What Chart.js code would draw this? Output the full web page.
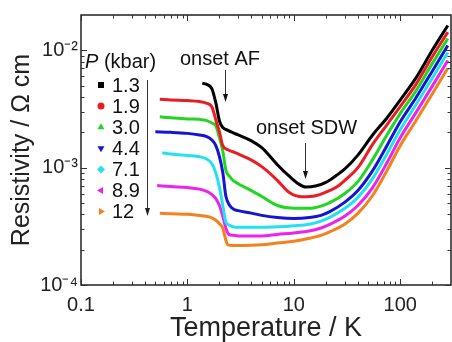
<!DOCTYPE html>
<html><head><meta charset="utf-8">
<script src="https://cdn.jsdelivr.net/npm/chart.js@4.4.0/dist/chart.umd.min.js"></script>
<style>html,body{margin:0;padding:0;background:#fff;}canvas{display:block;}</style>
</head><body>
<canvas id="c" width="452" height="342"></canvas>
<script>
// ---- data (T in K, resistivity in Ω cm) ----
const pressureLabels = ['1.3', '1.9', '3.0', '4.4', '7.1', '8.9', '12'];

const tempP13 = [1.38, 1.5, 1.7, 1.85, 2.0, 2.15, 2.4, 2.7, 3, 4, 5, 7, 9, 11, 13, 16, 20, 25, 30, 40, 55, 75, 100, 140, 200, 280];
const rhoP13  = [5.25e-3, 5.15e-3, 4.7e-3, 3.56e-3, 2.5e-3, 2.2e-3, 2.08e-3, 1.98e-3, 1.9e-3, 1.69e-3, 1.48e-3, 1.06e-3, 8.5e-4, 7.3e-4, 6.84e-4, 6.97e-4, 7.5e-4, 8.56e-4, 9.7e-4, 1.28e-3, 1.9e-3, 2.65e-3, 3.77e-3, 5.79e-3, 1.0e-2, 1.63e-2];

const tempP19 = [0.55, 0.7, 1.0, 1.3, 1.5, 1.7, 1.85, 2.0, 2.15, 2.4, 2.7, 3, 4, 5, 7, 9, 12, 16, 20, 25, 30, 40, 55, 75, 100, 140, 200, 280];
const rhoP19  = [3.82e-3, 3.77e-3, 3.73e-3, 3.66e-3, 3.55e-3, 3.29e-3, 2.55e-3, 2.02e-3, 1.54e-3, 1.42e-3, 1.36e-3, 1.31e-3, 1.16e-3, 1.02e-3, 7.8e-4, 6.18e-4, 5.65e-4, 5.76e-4, 6.18e-4, 6.8e-4, 7.76e-4, 1.0e-3, 1.58e-3, 2.32e-3, 3.32e-3, 5.1e-3, 8.8e-3, 1.43e-2];

const tempP30 = [0.55, 0.7, 1.0, 1.3, 1.5, 1.7, 1.85, 2.0, 2.15, 2.3, 2.5, 2.7, 3, 4, 5, 7, 10, 14, 18, 22, 30, 40, 55, 75, 100, 140, 200, 280];
const rhoP30  = [2.71e-3, 2.66e-3, 2.6e-3, 2.58e-3, 2.53e-3, 2.4e-3, 2.27e-3, 1.8e-3, 1.39e-3, 9.5e-4, 8.4e-4, 7.76e-4, 7.3e-4, 6.38e-4, 5.68e-4, 4.76e-4, 4.5e-4, 4.5e-4, 4.7e-4, 5.06e-4, 6.0e-4, 7.6e-4, 1.17e-3, 1.9e-3, 2.89e-3, 4.49e-3, 7.7e-3, 1.26e-2];

const tempP44 = [0.5, 0.7, 1.0, 1.3, 1.5, 1.7, 1.85, 2.0, 2.15, 2.3, 2.5, 2.7, 3, 4, 5, 7, 10, 14, 18, 22, 30, 40, 55, 75, 100, 140, 200, 280];
const rhoP44  = [2.02e-3, 2.0e-3, 1.96e-3, 1.9e-3, 1.85e-3, 1.72e-3, 1.54e-3, 1.24e-3, 9.1e-4, 5.7e-4, 4.76e-4, 4.45e-4, 4.3e-4, 4.1e-4, 3.92e-4, 3.76e-4, 3.69e-4, 3.76e-4, 3.92e-4, 4.24e-4, 5.06e-4, 6.38e-4, 9.43e-4, 1.54e-3, 2.46e-3, 3.92e-3, 6.64e-3, 1.1e-2];

const tempP71 = [0.58, 0.7, 1.0, 1.3, 1.5, 1.7, 1.85, 2.0, 2.15, 2.3, 2.5, 2.7, 3, 5, 7, 10, 14, 18, 22, 30, 40, 55, 75, 100, 140, 200, 280];
const rhoP71  = [1.34e-3, 1.31e-3, 1.27e-3, 1.24e-3, 1.19e-3, 1.08e-3, 9.0e-4, 6.8e-4, 4.76e-4, 3.42e-4, 3.23e-4, 3.13e-4, 3.1e-4, 3.1e-4, 3.13e-4, 3.2e-4, 3.3e-4, 3.5e-4, 3.79e-4, 4.48e-4, 5.58e-4, 8.06e-4, 1.31e-3, 2.1e-3, 3.42e-3, 5.79e-3, 9.6e-3];

const tempP89 = [0.52, 0.7, 1.0, 1.3, 1.5, 1.7, 1.85, 2.0, 2.15, 2.3, 2.45, 2.7, 3, 5, 7, 10, 14, 18, 22, 30, 40, 55, 75, 100, 140, 200, 280];
const rhoP89  = [7.04e-4, 6.9e-4, 6.77e-4, 6.56e-4, 6.3e-4, 5.9e-4, 5.45e-4, 4.76e-4, 3.85e-4, 3.05e-4, 2.7e-4, 2.65e-4, 2.62e-4, 2.62e-4, 2.7e-4, 2.78e-4, 2.88e-4, 3.06e-4, 3.3e-4, 3.85e-4, 4.76e-4, 6.77e-4, 1.1e-3, 1.8e-3, 2.93e-3, 4.95e-3, 8.2e-3];

const tempP12 = [0.55, 0.7, 1.0, 1.3, 1.5, 1.7, 1.85, 2.0, 2.15, 2.3, 2.4, 2.7, 3, 5, 7, 10, 14, 18, 22, 30, 40, 55, 75, 100, 140, 200, 280];
const rhoP12  = [4.08e-4, 4.04e-4, 4.0e-4, 3.92e-4, 3.85e-4, 3.74e-4, 3.56e-4, 3.33e-4, 3.05e-4, 2.41e-4, 2.2e-4, 2.17e-4, 2.17e-4, 2.2e-4, 2.28e-4, 2.36e-4, 2.5e-4, 2.65e-4, 2.85e-4, 3.3e-4, 4.08e-4, 5.79e-4, 9.43e-4, 1.54e-3, 2.5e-3, 4.24e-3, 7.04e-3];

const xTickValues = [0.1,0.2,0.3,0.4,0.5,0.6,0.7,0.8,0.9,1,2,3,4,5,6,7,8,9,10,20,30,40,50,60,70,80,90,100,200];
const xMajorTicks = [0.1, 1, 10, 100];
const xTickLabels = ['0.1', '1', '10', '100'];
const yTickValues = [1e-4,2e-4,3e-4,4e-4,5e-4,6e-4,7e-4,8e-4,9e-4,1e-3,2e-3,3e-3,4e-3,5e-3,6e-3,7e-3,8e-3,9e-3,1e-2];
const yMajorTicks = [1e-4, 1e-3, 1e-2];
const yTickLabels = ['10\u207B\u2074', '10\u207B\u00B3', '10\u207B\u00B2'];

// ---- styles ----
const seriesColors = ['#000000', '#ec1c24', '#22d622', '#1414d2', '#22e2f2', '#ee22ee', '#f3821e'];
const markerShapes = ['square', 'circle', 'tri-up', 'tri-down', 'diamond', 'tri-left', 'tri-right'];
const FONT = '"Liberation Sans", Arial, Helvetica, sans-serif';

const temps = [tempP13, tempP19, tempP30, tempP44, tempP71, tempP89, tempP12];
const rhos = [rhoP13, rhoP19, rhoP30, rhoP44, rhoP71, rhoP89, rhoP12];

const datasets = pressureLabels.map((p, i) => ({
  label: p,
  data: temps[i].map((t, k) => ({ x: t, y: rhos[i][k] })),
  borderColor: seriesColors[i],
  backgroundColor: seriesColors[i],
  borderWidth: 3,
  pointRadius: 0,
  fill: false,
  cubicInterpolationMode: 'monotone'
}));

function isIn(arr, v) { return arr.some(a => Math.abs(a - v) / a < 1e-6); }

function drawMarker(ctx, shape, x, y, r) {
  ctx.beginPath();
  const tri = (ang) => {
    for (let k = 0; k < 3; k++) {
      const a = ang + k * 2 * Math.PI / 3;
      const px = x + r * 1.15 * Math.cos(a), py = y + r * 1.15 * Math.sin(a);
      k === 0 ? ctx.moveTo(px, py) : ctx.lineTo(px, py);
    }
    ctx.closePath();
  };
  switch (shape) {
    case 'square': ctx.rect(x - r * 0.85, y - r * 0.85, r * 1.7, r * 1.7); break;
    case 'circle': ctx.arc(x, y, r, 0, Math.PI * 2); break;
    case 'tri-up': tri(-Math.PI / 2); break;
    case 'tri-down': tri(Math.PI / 2); break;
    case 'tri-left': tri(Math.PI); break;
    case 'tri-right': tri(0); break;
    case 'diamond': ctx.moveTo(x, y - r * 1.15); ctx.lineTo(x + r * 1.15, y); ctx.lineTo(x, y + r * 1.15); ctx.lineTo(x - r * 1.15, y); ctx.closePath(); break;
  }
  ctx.fill();
}

function arrowDown(ctx, x, y1, y2) {
  ctx.beginPath();
  ctx.moveTo(x, y1); ctx.lineTo(x, y2 - 6);
  ctx.stroke();
  ctx.beginPath();
  ctx.moveTo(x - 2.5, y2 - 8); ctx.lineTo(x + 2.5, y2 - 8); ctx.lineTo(x, y2); ctx.closePath();
  ctx.fill();
}

const framePlugin = {
  id: 'frameTicks',
  afterDraw(chart) {
    const { ctx, chartArea: a, scales: { x, y } } = chart;
    ctx.save();
    ctx.strokeStyle = '#222';
    ctx.lineWidth = 1.5;
    ctx.strokeRect(a.left, a.top, a.right - a.left, a.bottom - a.top);
    ctx.lineWidth = 1;
    ctx.strokeStyle = '#333';
    ctx.beginPath();
    x.ticks.forEach(t => {
      const px = Math.round(x.getPixelForValue(t.value)) + 0.5;
      const L = isIn(xMajorTicks, t.value) ? 6 : 3.5;
      ctx.moveTo(px, a.bottom); ctx.lineTo(px, a.bottom - L);
      ctx.moveTo(px, a.top); ctx.lineTo(px, a.top + L);
    });
    y.ticks.forEach(t => {
      const py = Math.round(y.getPixelForValue(t.value)) + 0.5;
      const L = isIn(yMajorTicks, t.value) ? 6 : 3.5;
      ctx.moveTo(a.left, py); ctx.lineTo(a.left + L, py);
      ctx.moveTo(a.right, py); ctx.lineTo(a.right - L, py);
    });
    ctx.stroke();

    // legend
    ctx.fillStyle = '#111';
    ctx.textBaseline = 'alphabetic';
    ctx.font = 'italic 20px ' + FONT;
    ctx.fillText('P', 85, 68);
    const pw = ctx.measureText('P').width;
    ctx.font = '20px ' + FONT;
    ctx.fillText(' (kbar)', 85 + pw, 68);
    chart.data.datasets.forEach((ds, i) => {
      const cy = 85 + i * 21.1;
      ctx.fillStyle = ds.borderColor;
      drawMarker(ctx, markerShapes[i], 101, cy, 3.5);
      ctx.fillStyle = '#111';
      ctx.font = '20px ' + FONT;
      ctx.textBaseline = 'middle';
      ctx.fillText(ds.label, 112, cy + 1);
    });
    ctx.strokeStyle = '#333';
    ctx.fillStyle = '#222';
    ctx.lineWidth = 1;
    arrowDown(ctx, 147.5, 80, 216);

    // annotations
    ctx.textBaseline = 'alphabetic';
    ctx.fillStyle = '#111';
    ctx.font = '20px ' + FONT;
    ctx.fillText('onset AF', 180, 65);
    ctx.fillText('onset SDW', 256, 134);
    arrowDown(ctx, 225.5, 70, 102);
    arrowDown(ctx, 305.5, 143, 179);
    ctx.restore();
  }
};

new Chart(document.getElementById('c'), {
  type: 'line',
  data: { datasets },
  plugins: [framePlugin],
  options: {
    responsive: false,
    devicePixelRatio: 1,
    animation: false,
    layout: { padding: { top: 14, right: 1, left: 0, bottom: 0 } },
    plugins: { legend: { display: false }, tooltip: { enabled: false } },
    scales: {
      x: {
        type: 'logarithmic',
        min: 0.1, max: 300,
        grid: { display: false, drawTicks: false },
        border: { display: false },
        afterBuildTicks: (s) => { s.ticks = xTickValues.map(v => ({ value: v })); },
        afterFit: (s) => { s.height = 57; },
        ticks: {
          autoSkip: false, maxRotation: 0, padding: 8, color: '#222',
          font: { family: FONT, size: 20 },
          callback: (v) => { const i = xMajorTicks.findIndex(m => Math.abs(m - v) / m < 1e-6); return i >= 0 ? xTickLabels[i] : ''; }
        },
        title: { display: true, text: 'Temperature / K', color: '#222', font: { family: FONT, size: 27, lineHeight: 1 }, padding: { top: 0, bottom: 0 } }
      },
      y: {
        type: 'logarithmic',
        min: 1e-4, max: 2e-2,
        grid: { display: false, drawTicks: false },
        border: { display: false },
        afterBuildTicks: (s) => { s.ticks = yTickValues.map(v => ({ value: v })); },
        afterFit: (s) => { s.width = 81; },
        ticks: {
          autoSkip: false, padding: 3, color: '#222',
          font: { family: FONT, size: 20 },
          callback: (v) => { const i = yMajorTicks.findIndex(m => Math.abs(m - v) / m < 1e-6); return i >= 0 ? yTickLabels[i] : ''; }
        },
        title: { display: true, text: 'Resistivity / \u03A9 cm', color: '#222', font: { family: FONT, size: 25, lineHeight: 1 }, padding: { top: 10, bottom: 0 } }
      }
    }
  }
});
</script>
</body></html>
